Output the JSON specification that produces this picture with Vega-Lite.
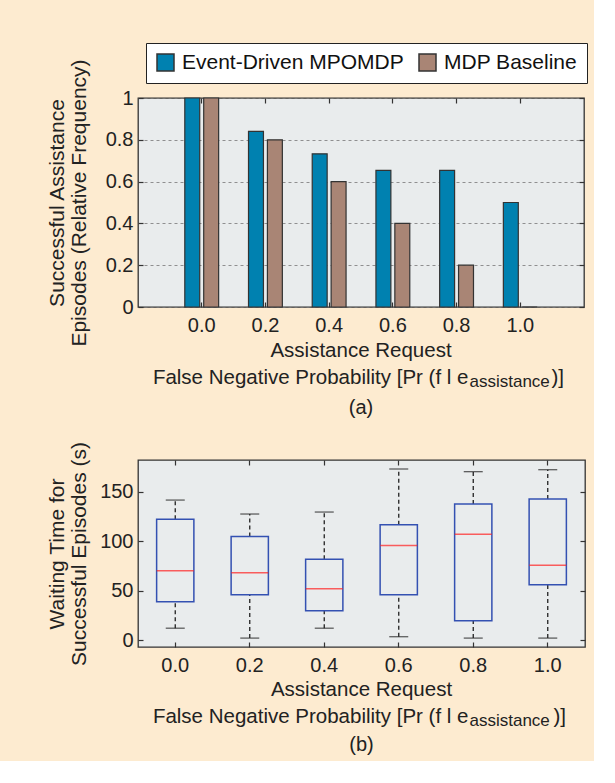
{
  "$schema": "https://vega.github.io/schema/vega-lite/v6.json",
  "background": "#fdebd0",
  "padding": {"left": 45, "top": 41, "right": 5, "bottom": 5},
  "spacing": 21,
  "config": {
    "font": "Liberation Sans",
    "view": {"fill": "#e9eced", "stroke": "#333", "strokeWidth": 1.3},
    "axis": {
      "labelFont": "Liberation Sans", "titleFont": "Liberation Sans",
      "labelColor": "#222", "titleColor": "#222", "titleFontWeight": "normal",
      "labelFontSize": 20, "titleFontSize": 21, "domain": false,
      "tickColor": "#333", "tickSize": -5, "tickWidth": 1.2, "grid": false
    },
    "title": {"font": "Liberation Sans", "fontSize": 20.5, "fontWeight": "normal", "color": "#222",
      "subtitleFont": "Liberation Sans", "subtitleFontSize": 20, "subtitleColor": "#222"}
  },
  "resolve": {"scale": {"color": "independent"}, "legend": {"color": "independent"}},
  "vconcat": [
    {
      "width": 446, "height": 209,
      "data": {"values": [
        {"p": "0.0", "series": "Event-Driven MPOMDP", "v": 1.0},
        {"p": "0.0", "series": "MDP Baseline", "v": 1.0},
        {"p": "0.2", "series": "Event-Driven MPOMDP", "v": 0.84},
        {"p": "0.2", "series": "MDP Baseline", "v": 0.8},
        {"p": "0.4", "series": "Event-Driven MPOMDP", "v": 0.733},
        {"p": "0.4", "series": "MDP Baseline", "v": 0.6},
        {"p": "0.6", "series": "Event-Driven MPOMDP", "v": 0.654},
        {"p": "0.6", "series": "MDP Baseline", "v": 0.4},
        {"p": "0.8", "series": "Event-Driven MPOMDP", "v": 0.654},
        {"p": "0.8", "series": "MDP Baseline", "v": 0.2},
        {"p": "1.0", "series": "Event-Driven MPOMDP", "v": 0.5},
        {"p": "1.0", "series": "MDP Baseline", "v": 0.0}
      ]},
      "title": {"text": "Assistance Request", "subtitle": "(a)", "orient": "bottom", "anchor": "middle", "frame": "group",
        "offset": -48.5, "subtitlePadding": 36.5},
      "layer": [
        {
          "mark": {"type": "bar", "stroke": "#333", "strokeWidth": 1.2},
          "encoding": {
            "x": {"field": "p", "type": "ordinal",
              "scale": {"paddingInner": 0, "paddingOuter": 0.5},
              "axis": {"orient": "bottom", "labelAngle": 0, "labelPadding": 13,
                "title": "False Negative Probability [Pr (f l e", "titleFontSize": 20.5,
                "titleX": 330, "titleY": 76, "titleAlign": "right", "titleBaseline": "alphabetic", "titleAngle": 0}},
            "xOffset": {"field": "series", "type": "nominal",
              "scale": {"domain": ["Event-Driven MPOMDP", "MDP Baseline"], "paddingInner": 0.21, "paddingOuter": 0.79}},
            "y": {"field": "v", "type": "quantitative",
              "scale": {"domain": [0, 1], "nice": false},
              "axis": {"orient": "left", "values": [0, 0.2, 0.4, 0.6, 0.8, 1], "format": "~g",
                "grid": true, "gridDash": [3, 3], "gridColor": "#777", "gridWidth": 0.8,
                "labelPadding": 10, "title": ["Successful Assistance", "Episodes (Relative Frequency)"],
                "titleLineHeight": 22, "titlePadding": 16}},
            "color": {"field": "series", "type": "nominal",
              "scale": {"domain": ["Event-Driven MPOMDP", "MDP Baseline"], "range": ["#0081b0", "#a98575"]},
              "legend": {"orient": "none", "legendX": 8, "legendY": -55, "direction": "horizontal", "title": null,
                "fillColor": "white", "strokeColor": "#222", "padding": 9,
                "labelFontSize": 21, "labelFont": "Liberation Sans", "labelColor": "#111", "labelLimit": 400,
                "labelOffset": 6, "columnPadding": 12, "symbolType": "square", "symbolSize": 289,
                "symbolStrokeColor": "#333", "symbolStrokeWidth": 1.5, "symbolOpacity": 1}}
          }
        },
        {
          "mark": {"type": "point", "opacity": 0},
          "encoding": {
            "x": {"field": "p", "type": "ordinal",
              "axis": {"orient": "top", "labels": false, "title": "assistance", "titleFontSize": 17,
                "titleX": 331, "titleY": 288, "titleAlign": "left", "titleBaseline": "alphabetic", "titleAngle": 0}},
            "y": {"field": "v", "type": "quantitative",
              "axis": {"orient": "right", "labels": false, "values": [0, 0.2, 0.4, 0.6, 0.8, 1],
                "title": ")]", "titleFontSize": 20.5, "titleX": -33, "titleY": 285, "titleAlign": "left",
                "titleBaseline": "alphabetic", "titleAngle": 0}}
          }
        }
      ],
      "resolve": {"axis": {"x": "independent", "y": "independent"}}
    },
    {
      "width": 447, "height": 187,
      "data": {"values": [
        {"p": "0.0", "lo": 12, "q1": 38.7, "med": 70, "q3": 122, "hi": 141.5},
        {"p": "0.2", "lo": 2, "q1": 45.8, "med": 68, "q3": 104.8, "hi": 127.4},
        {"p": "0.4", "lo": 12, "q1": 29.6, "med": 51.9, "q3": 81.6, "hi": 129.4},
        {"p": "0.6", "lo": 3.4, "q1": 45.8, "med": 95.7, "q3": 116.6, "hi": 172.9},
        {"p": "0.8", "lo": 2, "q1": 19.5, "med": 106.9, "q3": 137.5, "hi": 170.2},
        {"p": "1.0", "lo": 2, "q1": 55.9, "med": 75.5, "q3": 142.6, "hi": 172.2}
      ]},
      "title": {"text": "Assistance Request", "subtitle": "(b)", "orient": "bottom", "anchor": "middle", "frame": "group",
        "offset": -48.5, "subtitlePadding": 34.5},
      "layer": [
        {
          "mark": {"type": "rule", "color": "#222", "strokeDash": [4, 3], "strokeWidth": 1.3},
          "encoding": {
            "x": {"field": "p", "type": "ordinal",
              "scale": {"paddingInner": 0, "paddingOuter": 0},
              "axis": {"orient": "bottom", "labelAngle": 0, "labelPadding": 13,
                "title": "False Negative Probability [Pr (f l e", "titleFontSize": 20.5,
                "titleX": 330, "titleY": 75, "titleAlign": "right", "titleBaseline": "alphabetic", "titleAngle": 0}},
            "y": {"field": "lo", "type": "quantitative",
              "scale": {"domain": [-7, 182], "nice": false, "zero": false},
              "axis": {"orient": "left", "values": [0, 50, 100, 150], "labelPadding": 10,
                "title": ["Waiting Time for", "Successful Episodes (s)"], "titleLineHeight": 22, "titlePadding": 10.6}},
            "y2": {"field": "q1"}
          }
        },
        {
          "mark": {"type": "rule", "color": "#222", "strokeDash": [4, 3], "strokeWidth": 1.3},
          "encoding": {
            "x": {"field": "p", "type": "ordinal", "axis": null},
            "y": {"field": "q3", "type": "quantitative", "axis": null},
            "y2": {"field": "hi"}
          }
        },
        {
          "mark": {"type": "tick", "color": "#222", "size": 19, "thickness": 1.3},
          "encoding": {
            "x": {"field": "p", "type": "ordinal", "axis": null},
            "y": {"field": "lo", "type": "quantitative", "axis": null}
          }
        },
        {
          "mark": {"type": "tick", "color": "#222", "size": 19, "thickness": 1.3},
          "encoding": {
            "x": {"field": "p", "type": "ordinal", "axis": null},
            "y": {"field": "hi", "type": "quantitative", "axis": null}
          }
        },
        {
          "mark": {"type": "bar", "width": {"band": 0.5}, "fill": "#e9eced", "fillOpacity": 0, "stroke": "#3451b2", "strokeWidth": 1.5},
          "encoding": {
            "x": {"field": "p", "type": "ordinal", "axis": null},
            "y": {"field": "q1", "type": "quantitative", "axis": null},
            "y2": {"field": "q3"}
          }
        },
        {
          "mark": {"type": "tick", "color": "#ff2020", "size": 37, "thickness": 1.5},
          "encoding": {
            "x": {"field": "p", "type": "ordinal", "axis": null},
            "y": {"field": "med", "type": "quantitative", "axis": null}
          }
        },
        {
          "mark": {"type": "point", "opacity": 0},
          "encoding": {
            "x": {"field": "p", "type": "ordinal",
              "axis": {"orient": "top", "labels": false, "title": "assistance", "titleFontSize": 17,
                "titleX": 331, "titleY": 265, "titleAlign": "left", "titleBaseline": "alphabetic", "titleAngle": 0}},
            "y": {"field": "med", "type": "quantitative",
              "axis": {"orient": "right", "labels": false, "values": [0, 50, 100, 150],
                "title": ")]", "titleFontSize": 20.5, "titleX": -32, "titleY": 262, "titleAlign": "left",
                "titleBaseline": "alphabetic", "titleAngle": 0}}
          }
        }
      ],
      "resolve": {"axis": {"x": "independent", "y": "independent"}}
    }
  ]
}
